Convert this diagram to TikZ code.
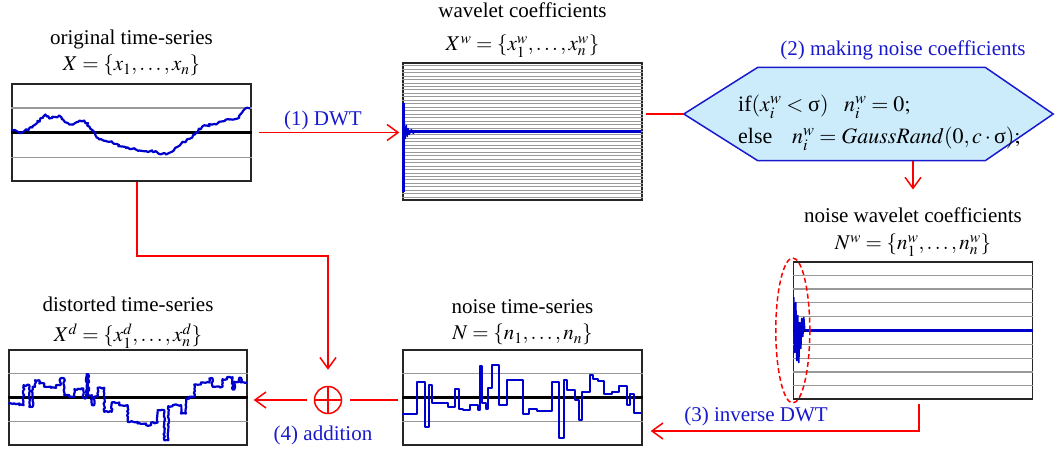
\documentclass[tikz,border=0pt]{standalone}
\usepackage{mathptmx}
\usepackage{fontspec}
\setmainfont{Liberation Serif}
\usetikzlibrary{arrows.meta,positioning,calc,shapes.geometric,decorations.pathmorphing}

\definecolor{flowred}{RGB}{255,0,0}
\definecolor{labelblue}{RGB}{25,25,205}
\definecolor{plotblue}{RGB}{0,0,205}
\definecolor{hexfill}{RGB}{204,236,252}

\begin{document}
\begin{tikzpicture}[
    x=1pt,y=-1pt,
    font=\fontsize{21}{25}\selectfont,
    panel/.style={draw=black!85,line width=1.4pt,rectangle,minimum width=239pt,inner sep=0pt},
    gridline/.style={black!40,line width=1.2pt},
    zeroline/.style={black,line width=3.2pt},
    series/.style={plotblue,line width=2.2pt,line join=round},
    flow/.style={draw=flowred,line width=1.5pt},
    flowarrow/.style={flow,-{Straight Barb[length=11pt,width=16pt,line width=1.5pt]}},
    steplabel/.style={text=labelblue,inner sep=1pt},
    caption/.style={inner sep=1pt}
  ]
  \useasboundingbox (0,0) rectangle (1055,450);
  \pgfmathsetseed{12}

  % Panels
  \node[panel,minimum height=97pt]  (orig)   at (131.5,132.5) {};
  \node[panel,minimum height=137pt] (wcoef)  at (522.5,131.5) {};
  \node[panel,minimum height=137pt] (nwcoef) at (913,330.5) {};
  \node[panel,minimum height=95pt]  (noise)  at (522.5,397.5) {};
  \node[panel,minimum height=95pt,minimum width=238pt] (dist) at (128,397.5) {};

  % Grid of the time-series panels
  \foreach \p in {orig,noise,dist}{
    \foreach \k in {1,3}
      \draw[gridline] ($(\p.north west)!\k/4!(\p.south west)$) -- ($(\p.north east)!\k/4!(\p.south east)$);
    \draw[zeroline] (\p.west) -- (\p.east);
  }

  % Grid of the coefficient panels
  \foreach \k in {1,...,39}
    \draw[gridline,line width=1pt] ($(wcoef.north west)!\k/40!(wcoef.south west)$) -- ($(wcoef.north east)!\k/40!(wcoef.south east)$);
  \foreach \k in {1,...,9}
    \draw[gridline] ($(nwcoef.north west)!\k/10!(nwcoef.south west)$) -- ($(nwcoef.north east)!\k/10!(nwcoef.south east)$);
  \draw[zeroline] (nwcoef.west) -- (nwcoef.east);

  % Original series
  \begin{scope}[shift={(orig.west)}]
    \draw[series,decorate,decoration={random steps,segment length=2pt,amplitude=1.2pt}]
      plot coordinates {(0,-2) (11,0) (21,-5) (34,-18) (38,-14) (48,-17) (58,-8) (73,-12)
        (78,-6) (88,7) (101,10) (111,14) (128,18) (141,19) (155,22) (161,19) (170,11)
        (181,5) (191,-6) (201,-8) (218,-13) (228,-15) (233,-23) (239,-24)};
  \end{scope}

  % Wavelet coefficients
  \begin{scope}[shift={(wcoef.west)}]
    \draw[series] (0,0) -- (239,0);
    \draw[series,line width=2.6pt] (1,-29) -- (1,60);
    \draw[series,line width=1.4pt] plot coordinates {(1,0) (2,-9) (3,7) (4,-6) (5,5) (6,-3)
      (7,3) (9,-2) (11,2) (13,-1) (16,1) (20,0)};
  \end{scope}

  % Noise wavelet coefficients
  \begin{scope}[shift={(nwcoef.west)}]
    \draw[series] (12,0) -- (240,0);
    \draw[series,line width=1.6pt] plot coordinates {(1,0) (1,-33) (2,22) (3,-28) (4,30)
      (5,-15) (6,32) (7,-8) (8,18) (9,-12) (10,6) (11,-13) (12,0)};
  \end{scope}
  \node[ellipse,draw=flowred,line width=1.5pt,dash pattern=on 5pt off 3pt,
        minimum width=34pt,minimum height=145pt] (focus) at (nwcoef.west) {};

  % Noise series
  \begin{scope}[shift={(noise.west)}]
    \draw[series,line width=2pt] plot[const plot] coordinates {(0,16) (14.7,-15.7) (22.3,29.3)
      (26.7,-13) (29.7,5) (45.7,9.3) (52.3,-9) (56.3,11) (60.7,12.7) (67.3,7) (75.7,12.7)
      (78,-32) (80,5) (83.3,11) (85.7,-10) (90,-33) (96.7,7) (104.7,-17.3) (120.7,16.7)
      (126.7,11) (135,13.7) (149.7,-15.7) (156.7,40.3) (161.3,-18) (165,-7.3) (172.3,2.7)
      (176.3,22) (179.7,-5.7) (187.3,-22.3) (190.7,-18.3) (195.7,-16.7) (201.3,-4)
      (210,-5.7) (216.7,-11.7) (224.7,7.7) (228,-3.3) (231.7,15.3) (239,15.3)};
  \end{scope}

  % Distorted series
  \begin{scope}[shift={(dist.west)}]
    \draw[series,decorate,decoration={random steps,segment length=2pt,amplitude=0.8pt}]
      plot[const plot] coordinates {(0,6) (11,7.7) (15.3,-12.3) (21,9.3) (24.3,-10.7)
      (26.7,-17.3) (31,-14) (36,-10.7) (42.7,-9.7) (47.7,-12.3) (52,-19) (56,-2.3)
      (61,-0.7) (66,-8.3) (72.7,-9) (75,0.3) (78.3,-23.3) (80,-2.3) (83.7,7.7) (86,-0.7)
      (89.3,-9.7) (96,14.3) (103.3,5) (111,7.7) (119.3,24.3) (129.3,26) (137.7,27.7)
      (142.7,25) (149.3,12.7) (156,42.7) (160,8.7) (164.3,7.7) (172.7,16) (177.7,1)
      (181,-0.7) (186,-13) (192.7,-15) (201,-19) (204.3,-10.7) (214.3,-18.3) (218.7,-20.3)
      (224.3,-8) (226,-15.7) (231,-19.7) (232.7,-15) (238,-15.7)};
  \end{scope}

  % Noise rule
  \node[minimum width=369pt,minimum height=93pt,inner sep=0pt] (rule) at (868.5,114) {};
  \draw[draw=labelblue,fill=hexfill,line width=1.5pt] (rule.west) -- ($(rule.north west)+(74,0)$)
    -- ($(rule.north east)+(-68,0)$) -- (rule.east) -- ($(rule.south east)+(-68,0)$)
    -- ($(rule.south west)+(74,0)$) -- cycle;

  % Sum
  \node[circle,draw=flowred,line width=1.5pt,minimum size=27pt,inner sep=0pt] (sum) at (328,400) {};
  \draw[flow] (sum.north) -- (sum.south) (sum.west) -- (sum.east);

  % Flow
  \coordinate (invbend) at (919,431);
  \coordinate (addbend) at (137,256);
  \draw[flow,line width=2pt] (wcoef.east |- rule.west) ++(3,0) -- (rule.west);
  \draw[flow,line width=2pt] (noise.west |- sum.east) ++(-4,0) -- ([xshift=8pt]sum.east);
  \draw[flowarrow,shorten <=7pt,shorten >=3pt] (orig.east) -- (orig.east -| wcoef.west);
  \draw[flowarrow,shorten <=4pt,shorten >=8pt] (nwcoef.south -| invbend) -- (invbend) -- (invbend -| noise.east);
  \draw[flowarrow,shorten >=16pt] (orig.south -| addbend) -- (addbend) -| (sum.north);
  \draw[flowarrow,shorten <=7pt,shorten >=6pt] (sum.west) -- (sum.west -| dist.east);

  % Captions
  \node[caption,above=6pt of orig] (origset) {$X=\{x_1,\ldots,x_n\}$};
  \node[caption,above=4pt of origset] (origtitle) {original time-series};
  \node[caption,above=4pt of wcoef] (wset) {$X^w=\{x_1^w,\ldots,x_n^w\}$};
  \node[caption,above=15pt of wset] (wtitle) {wavelet coefficients};
  \node[caption,above=4pt of nwcoef] (nwset) {$N^w=\{n_1^w,\ldots,n_n^w\}$};
  \node[caption,above=9pt of nwset] (nwtitle) {noise wavelet coefficients};
  \node[caption,above=3pt of noise] (noiseset) {$N=\{n_1,\ldots,n_n\}$};
  \node[caption,above=8pt of noiseset] (noisetitle) {noise time-series};
  \node[caption,above=0pt of dist] (distset) {$X^d=\{x_1^d,\ldots,x_n^d\}$};
  \node[caption,above=9pt of distset] (disttitle) {distorted time-series};
  \draw[flowarrow,shorten >=17pt] (rule.south -| nwtitle.north) -- (nwtitle.north);

  % Rule text and step labels
  \node[anchor=west,align=left,inner sep=0pt,font=\fontsize{22}{32}\selectfont] (ruletext) at (738,123)
    {if$(x_i^w<\mbox{σ})$\hspace{0.7em}$n_i^w=0;$\\
     else\hspace{0.9em}$n_i^w=GaussRand(0,c\cdot\mbox{σ});$};
  \node[steplabel] (makelbl) at (903,50) {(2) making noise coefficients};
  \node[steplabel] (dwtlbl) at (323,120) {(1) DWT};
  \node[steplabel] (invlbl) at (756,416) {(3) inverse DWT};
  \node[steplabel] (addlbl) at (323,435) {(4) addition};
\end{tikzpicture}
\end{document}
